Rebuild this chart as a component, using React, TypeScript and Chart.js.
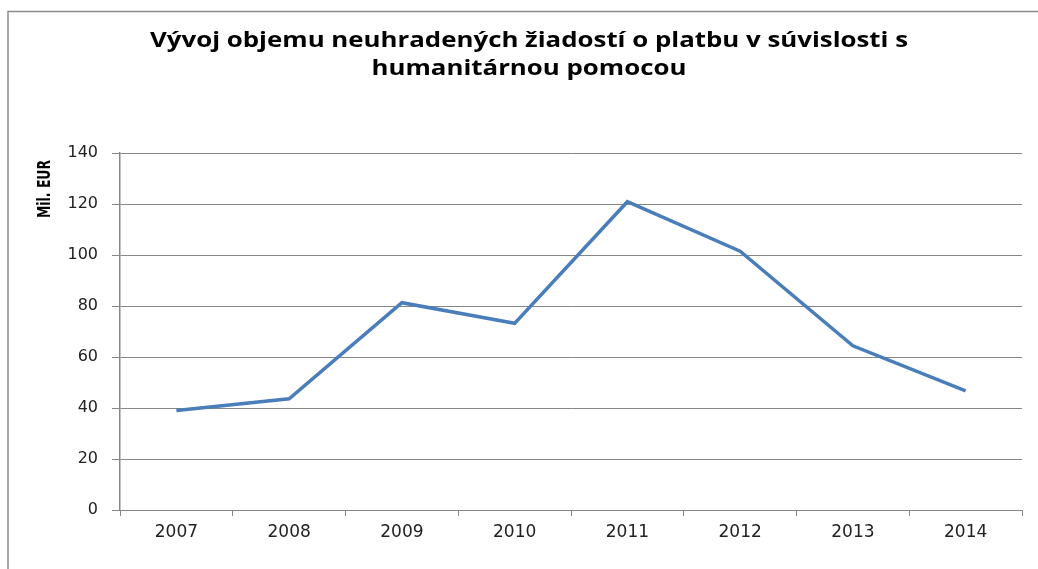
import React, { useEffect, useRef } from "react";
import { Chart, registerables } from "chart.js";

Chart.register(...registerables);

const categories = ["2007", "2008", "2009", "2010", "2011", "2012", "2013", "2014"];
const values = [39, 43.6, 81.3, 73.2, 120.9, 101.5, 64.4, 46.7];
const titleLines = ["Vývoj objemu neuhradených žiadostí o platbu v súvislosti s", "humanitárnou pomocou"];
const yAxisLabel = "Mil. EUR";
const yMin = 0;
const yMax = 140;
const yStep = 20;

const W = 1038;
const H = 569;

const decorPlugin = {
  id: "decor",
  beforeDraw(chart: any) {
    const ctx = chart.ctx;
    ctx.save();
    ctx.fillStyle = "#ffffff";
    ctx.fillRect(0, 0, W, H);
    ctx.strokeStyle = "#8c8c8c";
    ctx.lineWidth = 1.5;
    ctx.beginPath();
    ctx.moveTo(8, H + 2);
    ctx.lineTo(8, 11.5);
    ctx.lineTo(W + 2, 11.5);
    ctx.stroke();
    ctx.restore();
  },
  afterDraw(chart: any) {
    const ctx = chart.ctx;
    ctx.save();
    ctx.fillStyle = "#000000";
    ctx.textAlign = "center";
    ctx.textBaseline = "alphabetic";
    ctx.font = "bold 21px 'Open Sans'";
    const w1 = ctx.measureText(titleLines[0]).width;
    const sx = 758 / w1;
    ctx.save();
    ctx.translate(529, 47.3);
    ctx.scale(sx, 1);
    ctx.fillText(titleLines[0], 0, 0);
    ctx.restore();
    ctx.save();
    ctx.translate(529, 75);
    ctx.scale(sx, 1);
    ctx.fillText(titleLines[1], 0, 0);
    ctx.restore();

    ctx.font = "bold 17px 'DejaVu Sans Condensed'";
    const wl = ctx.measureText(yAxisLabel).width;
    ctx.translate(50, 189);
    ctx.rotate(-Math.PI / 2);
    ctx.scale(58 / wl, 1);
    ctx.fillText(yAxisLabel, 0, 0);
    ctx.restore();
  },
};

export default function App() {
  const ref = useRef<HTMLCanvasElement | null>(null);
  useEffect(() => {
    if (!ref.current) return;
    const chart = new Chart(ref.current, {
      type: "line",
      data: {
        labels: categories,
        datasets: [
          {
            data: values,
            borderColor: "#4A7EBB",
            borderWidth: 3.5,
            pointRadius: 0,
            tension: 0,
            fill: false,
          },
        ],
      },
      options: {
        animation: false,
        responsive: false,
        devicePixelRatio: 1,
        layout: { padding: { top: 153, right: 16, left: 0, bottom: 0 } },
        plugins: { legend: { display: false }, title: { display: false }, tooltip: { enabled: false } },
        scales: {
          x: {
            type: "category",
            offset: true,
            grid: {
              offset: true,
              drawOnChartArea: false,
              drawTicks: true,
              tickLength: 6,
              color: "#868686",
            },
            border: { display: true, color: "#868686", width: 1 },
            ticks: {
              color: "#222222",
              font: { family: "'DejaVu Sans'", size: 17 },
              padding: 6,
              maxRotation: 0,
            },
            afterFit(axis: any) {
              axis.height = H - 510;
            },
          },
          y: {
            min: yMin,
            max: yMax,
            ticks: {
              stepSize: yStep,
              color: "#222222",
              font: { family: "'DejaVu Sans'", size: 16 },
              padding: 14,
            },
            grid: {
              color: "#868686",
              lineWidth: 1,
              drawTicks: true,
              tickLength: 8,
            },
            border: { display: true, color: "#868686", width: 1.5 },
            afterFit(axis: any) {
              axis.width = 120;
            },
          },
        },
      },
      plugins: [decorPlugin],
    });
    return () => chart.destroy();
  }, []);
  return (
    <div style={{ position: "fixed", left: 0, top: 0, width: W, height: H, background: "#fff" }}>
      <canvas ref={ref} width={W} height={H} style={{ width: W, height: H, display: "block" }} />
    </div>
  );
}
